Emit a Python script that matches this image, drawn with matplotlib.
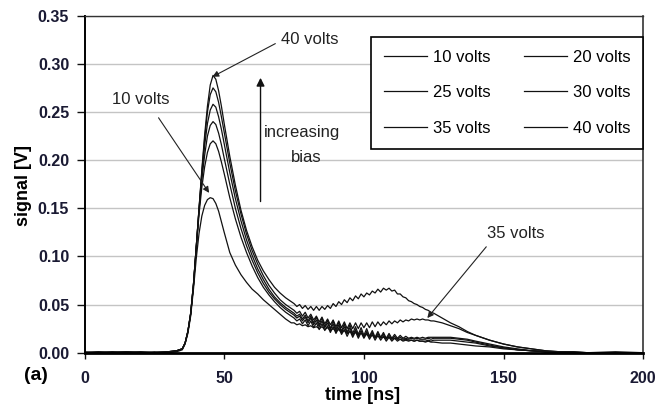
import matplotlib
matplotlib.use('Agg')
import matplotlib.pyplot as plt
from matplotlib.ticker import FormatStrFormatter

plt.rcParams['font.family'] = ['Liberation Sans', 'DejaVu Sans']

# ---------------- data ----------------
time_ns = [0, 5, 10, 15, 20, 25, 30, 33,
           35, 36, 37, 38, 39, 40, 41, 42, 43, 44, 45, 46, 47, 48, 49, 50,
           52, 54, 56, 58, 60, 62, 64, 66, 68, 70, 72, 74,
           75, 76, 77, 78, 79, 80, 81, 82, 83, 84, 85, 86, 87, 88, 89, 90,
           91, 92, 93, 94, 95, 96, 97, 98, 99, 100, 101, 102, 103, 104, 105,
           106, 107, 108, 109, 110, 111, 112, 113, 114, 115, 116, 117, 118,
           119, 120, 121, 122, 123, 124, 125,
           128, 131, 134, 137, 140, 145, 150, 155, 160, 165, 170, 175, 180, 190, 200]

v10 = [0, 0, 0, 0.001, 0, 0, 0, 0.001,
       0.003, 0.009, 0.020, 0.038, 0.066, 0.098, 0.124, 0.142, 0.153, 0.159, 0.161, 0.160, 0.155, 0.147, 0.136, 0.125,
       0.104, 0.091, 0.081, 0.073, 0.066, 0.061, 0.055, 0.050, 0.045, 0.040, 0.035, 0.031,
       0.031, 0.029, 0.030, 0.028, 0.029, 0.027, 0.028, 0.026, 0.027, 0.025, 0.027, 0.024, 0.026, 0.023, 0.025, 0.022,
       0.024, 0.021, 0.023, 0.020, 0.022, 0.019, 0.021, 0.019, 0.020, 0.018, 0.019, 0.017, 0.018, 0.016, 0.017,
       0.016, 0.016, 0.015, 0.016, 0.014, 0.015, 0.014, 0.014, 0.013, 0.014, 0.013, 0.013, 0.012,
       0.013, 0.012, 0.012, 0.011, 0.012, 0.011, 0.011,
       0.010, 0.010, 0.009, 0.008, 0.007, 0.006, 0.004, 0.003, 0.002, 0.001, 0.001, 0, 0, 0, 0]

v20 = [0, 0.001, 0, 0, 0.001, 0, 0.001, 0.002,
       0.004, 0.010, 0.022, 0.040, 0.070, 0.108, 0.144, 0.172, 0.193, 0.208, 0.217, 0.220, 0.217, 0.209, 0.198, 0.186,
       0.161, 0.139, 0.120, 0.104, 0.090, 0.078, 0.068, 0.060, 0.053, 0.047, 0.042, 0.038,
       0.036, 0.033, 0.035, 0.030, 0.034, 0.028, 0.033, 0.026, 0.031, 0.024, 0.030, 0.023, 0.028, 0.021, 0.027, 0.020,
       0.026, 0.019, 0.024, 0.017, 0.023, 0.016, 0.022, 0.015, 0.021, 0.015, 0.020, 0.014, 0.019, 0.013, 0.018,
       0.013, 0.017, 0.012, 0.016, 0.012, 0.015, 0.012, 0.014, 0.012, 0.013, 0.012, 0.013, 0.012,
       0.013, 0.012, 0.012, 0.012, 0.013, 0.012, 0.013,
       0.013, 0.013, 0.012, 0.011, 0.010, 0.007, 0.005, 0.003, 0.002, 0.001, 0, 0, 0, 0, 0]

v25 = [0, 0, 0.001, 0, 0, 0.001, 0, 0.002,
       0.004, 0.010, 0.022, 0.041, 0.071, 0.110, 0.148, 0.180, 0.205, 0.225, 0.236, 0.240, 0.237, 0.228, 0.216, 0.202,
       0.175, 0.150, 0.129, 0.111, 0.096, 0.083, 0.072, 0.063, 0.056, 0.050, 0.045, 0.041,
       0.039, 0.036, 0.038, 0.033, 0.037, 0.031, 0.036, 0.029, 0.034, 0.027, 0.033, 0.026, 0.031, 0.024, 0.030, 0.022,
       0.029, 0.021, 0.027, 0.020, 0.026, 0.018, 0.024, 0.017, 0.023, 0.016, 0.022, 0.016, 0.021, 0.015, 0.020,
       0.015, 0.019, 0.014, 0.018, 0.014, 0.017, 0.014, 0.016, 0.014, 0.015, 0.014, 0.015, 0.014,
       0.015, 0.014, 0.014, 0.014, 0.015, 0.014, 0.015,
       0.015, 0.015, 0.014, 0.013, 0.011, 0.008, 0.005, 0.003, 0.002, 0.001, 0, 0, 0, 0, 0]

v30 = [0.001, 0, 0, 0.001, 0, 0, 0.001, 0.002,
       0.004, 0.010, 0.022, 0.041, 0.071, 0.110, 0.149, 0.185, 0.215, 0.238, 0.252, 0.258, 0.255, 0.245, 0.232, 0.217,
       0.187, 0.160, 0.137, 0.117, 0.101, 0.087, 0.076, 0.066, 0.058, 0.052, 0.047, 0.043,
       0.041, 0.038, 0.040, 0.035, 0.039, 0.033, 0.038, 0.031, 0.037, 0.029, 0.036, 0.027, 0.034, 0.025, 0.033, 0.024,
       0.032, 0.022, 0.030, 0.021, 0.029, 0.020, 0.027, 0.019, 0.026, 0.018, 0.025, 0.017, 0.023, 0.016, 0.022,
       0.016, 0.021, 0.015, 0.020, 0.015, 0.019, 0.015, 0.018, 0.015, 0.017, 0.015, 0.016, 0.015,
       0.016, 0.015, 0.016, 0.015, 0.016, 0.016, 0.016,
       0.016, 0.016, 0.015, 0.014, 0.012, 0.009, 0.006, 0.004, 0.002, 0.001, 0.001, 0, 0, 0, 0]

v35 = [0, 0, 0.001, 0, 0.001, 0, 0.001, 0.002,
       0.004, 0.010, 0.022, 0.041, 0.071, 0.110, 0.150, 0.188, 0.222, 0.250, 0.268, 0.275, 0.271, 0.260, 0.245, 0.229,
       0.197, 0.168, 0.144, 0.123, 0.106, 0.092, 0.080, 0.070, 0.062, 0.055, 0.050, 0.046,
       0.044, 0.041, 0.043, 0.038, 0.042, 0.036, 0.040, 0.034, 0.038, 0.032, 0.037, 0.030, 0.035, 0.029, 0.034, 0.027,
       0.033, 0.026, 0.032, 0.025, 0.031, 0.025, 0.031, 0.025, 0.031, 0.026, 0.031, 0.026, 0.032, 0.027, 0.032,
       0.028, 0.032, 0.029, 0.033, 0.030, 0.033, 0.031, 0.034, 0.032, 0.034, 0.033, 0.035, 0.034,
       0.035, 0.034, 0.035, 0.034, 0.034, 0.033, 0.033,
       0.031, 0.028, 0.025, 0.021, 0.018, 0.013, 0.009, 0.006, 0.004, 0.002, 0.001, 0.001, 0, 0.001, 0]

v40 = [0, 0.001, 0, 0.001, 0, 0, 0.001, 0.002,
       0.004, 0.010, 0.022, 0.040, 0.070, 0.110, 0.150, 0.190, 0.226, 0.256, 0.278, 0.288, 0.284, 0.272, 0.256, 0.238,
       0.204, 0.174, 0.148, 0.127, 0.110, 0.096, 0.085, 0.076, 0.068, 0.062, 0.057, 0.053,
       0.051, 0.048, 0.050, 0.046, 0.049, 0.045, 0.048, 0.044, 0.048, 0.044, 0.048, 0.045, 0.049, 0.046, 0.051, 0.048,
       0.053, 0.050, 0.055, 0.052, 0.057, 0.054, 0.059, 0.056, 0.061, 0.058, 0.062, 0.060, 0.064, 0.062, 0.066,
       0.063, 0.067, 0.065, 0.067, 0.064, 0.065, 0.061, 0.061, 0.058, 0.057, 0.054, 0.053, 0.051,
       0.050, 0.048, 0.047, 0.045, 0.044, 0.042, 0.041,
       0.036, 0.031, 0.027, 0.022, 0.018, 0.013, 0.009, 0.006, 0.004, 0.002, 0.001, 0.001, 0, 0, 0]

series_labels = ['10 volts', '20 volts', '25 volts', '30 volts', '35 volts', '40 volts']
series_values = [v10, v20, v25, v30, v35, v40]

x_ticks = [0, 50, 100, 150, 200]
y_ticks = [0.00, 0.05, 0.10, 0.15, 0.20, 0.25, 0.30, 0.35]

# ---------------- figure ----------------
W, H = 658, 413
fig = plt.figure(figsize=(W / 100, H / 100), dpi=100)
L, R, T, B = 84.5, 643.3, 15.7, 352.7
ax = fig.add_axes([L / W, 1 - B / H, (R - L) / W, (B - T) / H])

lines = []
for lab, vals in zip(series_labels, series_values):
    ln, = ax.plot(time_ns, vals, color='#111111', lw=0.9, label=lab)
    lines.append(ln)

ax.set_xlim(0, 200)
ax.set_ylim(0, 0.35)
ax.set_xticks(x_ticks)
ax.set_yticks(y_ticks)
ax.yaxis.set_major_formatter(FormatStrFormatter('%.2f'))
ax.grid(axis='y', color='#c4c4c4', lw=1.0)
ax.set_axisbelow(True)

ax.tick_params(axis='y', direction='out', length=6, width=1, pad=5, labelsize=11.5, colors='#111111')
ax.tick_params(axis='x', direction='out', length=4, width=1, pad=9, labelsize=11.5, colors='#111111')
for lab in ax.get_xticklabels() + ax.get_yticklabels():
    lab.set_fontweight('bold')
    lab.set_color('#1a1a33')

ax.spines['left'].set_linewidth(1.4)
ax.spines['bottom'].set_linewidth(2.0)
ax.spines['top'].set_linewidth(1.0)
ax.spines['right'].set_linewidth(1.2)
ax.spines['top'].set_color('#333333')
ax.spines['right'].set_color('#333333')

# legend ordered row-wise: 10/20, 25/30, 35/40
order = [0, 2, 4, 1, 3, 5]
leg = ax.legend([lines[i] for i in order], [series_labels[i] for i in order],
                ncol=2, loc='upper right', bbox_to_anchor=(1.0, (B - 37) / (B - T)),
                borderaxespad=0, fontsize=12, frameon=True, fancybox=False,
                handlelength=2.6, handletextpad=0.35, columnspacing=2.0,
                labelspacing=1.25, borderpad=0.75)
leg.get_frame().set_edgecolor('black')
leg.get_frame().set_linewidth(1.2)
leg.get_frame().set_alpha(1)

# annotations
ap = dict(arrowstyle='-|>', color='#222222', lw=0.8, mutation_scale=9, shrinkA=0, shrinkB=0)
ax.annotate('', xy=(45.8, 0.2866), xytext=(68.3, 0.321), arrowprops=ap)
ax.text(70.5, 0.325, '40 volts', fontsize=12, ha='left', va='center', color='#222222')

ax.annotate('', xy=(44.6, 0.166), xytext=(26.5, 0.244), arrowprops=ap)
ax.text(10.0, 0.263, '10 volts', fontsize=12, ha='left', va='center', color='#222222')

ax.annotate('', xy=(122.7, 0.036), xytext=(143.8, 0.110), arrowprops=ap)
ax.text(144.2, 0.124, '35 volts', fontsize=12, ha='left', va='center', color='#222222')

ap2 = dict(arrowstyle='-|>', color='#111111', lw=1.0, mutation_scale=12, shrinkA=0, shrinkB=0)
ax.annotate('', xy=(63.0, 0.2855), xytext=(63.0, 0.157), arrowprops=ap2)
ax.text(78.0, 0.229, 'increasing', fontsize=12, ha='center', va='center', color='#222222')
ax.text(79.5, 0.203, 'bias', fontsize=12, ha='center', va='center', color='#222222')

fig.text(363 / W, 1 - 396 / H, 'time [ns]', fontsize=13, fontweight='bold', ha='center', va='center')
fig.text(23 / W, 1 - 185 / H, 'signal [V]', fontsize=13, fontweight='bold', ha='center', va='center',
         rotation=90)
fig.text(36 / W, 1 - 375 / H, '(a)', fontsize=14, fontweight='bold', ha='center', va='center')

fig.savefig('out.png', dpi=100)
